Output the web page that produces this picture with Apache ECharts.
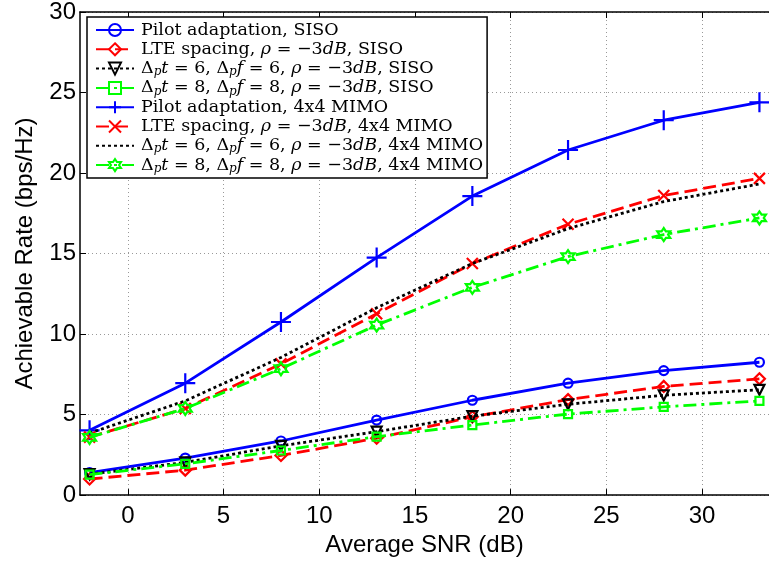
<!DOCTYPE html>
<html><head><meta charset="utf-8">
<script src="https://cdn.jsdelivr.net/npm/echarts@6/dist/echarts.min.js"></script>
<style>html,body{margin:0;padding:0;background:#fff}#c{width:769px;height:562px}</style>
</head><body><div id="c"></div>
<script>
// ---- data ----
const snr = [-2, 3, 8, 13, 18, 23, 28, 33];
const xTicks = [0, 5, 10, 15, 20, 25, 30];
const pilotSiso = [1.4, 2.3, 3.36, 4.66, 5.89, 6.95, 7.73, 8.25];
const lteSiso   = [1.0, 1.55, 2.46, 3.53, 4.86, 5.93, 6.75, 7.22];
const d6Siso    = [1.3, 2.03, 3.06, 3.94, 4.9, 5.64, 6.2, 6.54];
const d8Siso    = [1.27, 1.94, 2.77, 3.63, 4.35, 5.03, 5.48, 5.85];
const pilotMimo = [4.02, 6.95, 10.75, 14.75, 18.57, 21.43, 23.28, 24.39];
const lteMimo   = [3.6, 5.38, 8.15, 11.26, 14.38, 16.82, 18.6, 19.67];
const d6Mimo    = [3.85, 5.85, 8.55, 11.63, 14.38, 16.55, 18.23, 19.32];
const d8Mimo    = [3.58, 5.38, 7.85, 10.56, 12.9, 14.81, 16.18, 17.21];
const names = [
  'Pilot adaptation, SISO',
  'LTE spacing, ρ = −3dB, SISO',
  'Δpt = 6, Δpf = 6, ρ = −3dB, SISO',
  'Δpt = 8, Δpf = 8, ρ = −3dB, SISO',
  'Pilot adaptation, 4x4 MIMO',
  'LTE spacing, ρ = −3dB, 4x4 MIMO',
  'Δpt = 6, Δpf = 6, ρ = −3dB, 4x4 MIMO',
  'Δpt = 8, Δpf = 8, ρ = −3dB, 4x4 MIMO'
];
const richNames = [
  'Pilot adaptation, SISO',
  'LTE spacing, {it|ρ} = −3{it|dB}, SISO',
  'Δ{sub|p}{it|t} = 6, Δ{sub|p}{it|f} = 6, {it|ρ} = −3{it|dB}, SISO',
  'Δ{sub|p}{it|t} = 8, Δ{sub|p}{it|f} = 8, {it|ρ} = −3{it|dB}, SISO',
  'Pilot adaptation, 4x4 MIMO',
  'LTE spacing, {it|ρ} = −3{it|dB}, 4x4 MIMO',
  'Δ{sub|p}{it|t} = 6, Δ{sub|p}{it|f} = 6, {it|ρ} = −3{it|dB}, 4x4 MIMO',
  'Δ{sub|p}{it|t} = 8, Δ{sub|p}{it|f} = 8, {it|ρ} = −3{it|dB}, 4x4 MIMO'
];

const BLUE = '#0000ff', RED = '#ff0000', BLACK = '#000000', GREEN = '#00ff00';
const PLUS = 'path://M1,0L1,2M0,1L2,1';
const CROSS = 'path://M0,0L2,2M0,2L2,0';
const TRI_DOWN = 'path://M0,0L2,0L1,1.8Z';
const HEX = 'path://M0,-1L-0.289,-0.5L-0.866,-0.5L-0.577,0L-0.866,0.5L-0.289,0.5L0,1L0.289,0.5L0.866,0.5L0.577,0L0.866,-0.5L0.289,-0.5Z';

function mk(i, vals, color, type, symbol, size) {
  return {
    name: names[i], type: 'line', data: snr.map((x, k) => [x, vals[k]]),
    symbol: symbol, symbolSize: size, showSymbol: symbol !== 'none',
    lineStyle: { color: color, width: 2.8, type: type },
    itemStyle: { color: 'rgba(0,0,0,0)', borderColor: color, borderWidth: 2.2 },
    emphasis: { disabled: true }, z: 2 + i
  };
}
const DASH = [13, 6], DOT = [3, 3], DASHDOT = [13, 5, 3, 5];

const legendData = names.map(function (n, i) {
  if (i === 6) return { name: n, itemStyle: { color: 'rgba(0,0,0,0)', borderColor: 'rgba(0,0,0,0)', borderWidth: 0 } };
  return { name: n };
});

const chart = echarts.init(document.getElementById('c'), null, { renderer: 'canvas' });
chart.setOption({
  animation: false,
  backgroundColor: '#fff',
  grid: { left: 80, right: -9.4, top: 11, bottom: 63, containLabel: false },
  xAxis: [{
    type: 'value', min: -2.5, max: 33.5, position: 'bottom',
    name: 'Average SNR (dB)', nameLocation: 'middle', nameGap: 34,
    nameTextStyle: { fontFamily: 'Liberation Sans', fontSize: 24, color: '#000' },
    axisLine: { show: true, onZero: false, lineStyle: { color: '#000', width: 1.5 } },
    axisTick: { show: true, inside: true, length: 6, customValues: xTicks, lineStyle: { color: '#000', width: 1 } },
    axisLabel: { customValues: xTicks, fontFamily: 'Liberation Sans', fontSize: 24, color: '#000', margin: 9 },
    splitLine: { show: true, lineStyle: { color: '#999', width: 1, type: [1, 3] } }
  }, {
    type: 'value', min: -2.5, max: 33.5, position: 'top',
    axisLine: { show: true, onZero: false, lineStyle: { color: '#000', width: 1.5 } },
    axisTick: { show: true, inside: true, length: 6, customValues: xTicks, lineStyle: { color: '#000', width: 1 } },
    axisLabel: { show: false },
    splitLine: { show: false }
  }],
  yAxis: {
    type: 'value', min: 0, max: 30, interval: 5,
    name: 'Achievable Rate (bps/Hz)', nameLocation: 'middle', nameGap: 43,
    nameTextStyle: { fontFamily: 'Liberation Sans', fontSize: 24, color: '#000' },
    axisLine: { show: true, onZero: false, lineStyle: { color: '#000', width: 1.5 } },
    axisTick: { show: true, inside: true, length: 6, lineStyle: { color: '#000', width: 1 } },
    axisLabel: { fontFamily: 'Liberation Sans', fontSize: 24, color: '#000', margin: 4 },
    splitLine: { show: true, lineStyle: { color: '#999', width: 1, type: [1, 3] } }
  },
  legend: {
    left: 87, top: 17, orient: 'vertical',
    itemWidth: 38, itemHeight: 15, itemGap: 0.3,
    padding: [3.5, 4, 3.5, 8],
    borderColor: '#000', borderWidth: 1.5, backgroundColor: '#fff',
    selectedMode: false,
    data: legendData,
    formatter: function (n) { return richNames[names.indexOf(n)]; },
    textStyle: {
      fontFamily: 'DejaVu Serif', fontSize: 17.5, color: '#000', lineHeight: 19,
      padding: [0, 0, 0, 2],
      rich: {
        it: { fontFamily: 'DejaVu Serif', fontSize: 17.5, fontStyle: 'italic', color: '#000', lineHeight: 19 },
        sub: { fontFamily: 'DejaVu Serif', fontSize: 12, fontStyle: 'italic', color: '#000', lineHeight: 12, verticalAlign: 'bottom' }
      }
    }
  },
  series: [
    mk(0, pilotSiso, BLUE, 'solid', 'circle', 9),
    mk(1, lteSiso, RED, DASH, 'diamond', 11),
    mk(2, d6Siso, BLACK, DOT, TRI_DOWN, 10),
    mk(3, d8Siso, GREEN, DASHDOT, 'rect', 8),
    mk(4, pilotMimo, BLUE, 'solid', PLUS, 20),
    mk(5, lteMimo, RED, DASH, CROSS, 11),
    mk(6, d6Mimo, BLACK, DOT, 'none', 0),
    mk(7, d8Mimo, GREEN, DASHDOT, HEX, 13)
  ]
});
</script>
</body></html>
